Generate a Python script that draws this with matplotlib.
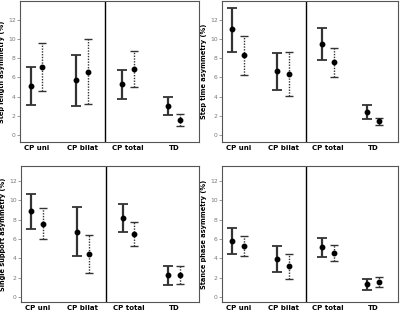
import numpy as np
import matplotlib
matplotlib.use("Agg")
import matplotlib.pyplot as plt

groups = ["CP uni", "CP bilat", "CP total", "TD"]

titles = ["Step length asymmetry (%)", "Step time asymmetry (%)",
          "Single support asymmetry (%)", "Stance phase asymmetry (%)"]

# mean, lower, upper for the solid and the dotted series in each panel
solid_mean = [[5.1, 5.7, 5.3, 3.0], [11.1, 6.7, 9.5, 2.4],
              [8.86, 6.76, 8.17, 2.24], [5.8, 3.9, 5.17, 1.31]]
solid_lo = [[3.14, 3.0, 3.8, 2.1], [8.7, 4.7, 7.8, 1.65],
            [7.07, 4.24, 6.7, 1.24], [4.41, 2.59, 4.14, 0.72]]
solid_hi = [[7.1, 8.4, 6.8, 4.0], [13.3, 8.6, 11.2, 3.1],
            [10.7, 9.34, 9.6, 3.2], [7.14, 5.24, 6.14, 1.83]]

dot_mean = [[7.07, 6.6, 6.9, 1.6], [8.3, 6.4, 7.6, 1.4],
            [7.6, 4.48, 6.48, 2.3], [5.28, 3.17, 4.55, 1.52]]
dot_lo = [[4.6, 3.2, 5.0, 0.93], [6.3, 4.1, 6.1, 1.0],
          [6.0, 2.45, 5.24, 1.34], [4.24, 1.86, 3.69, 1.03]]
dot_hi = [[9.6, 10.0, 8.8, 2.2], [10.3, 8.7, 9.1, 1.8],
          [9.2, 6.45, 7.8, 3.2], [6.3, 4.45, 5.38, 2.07]]

W, H = 400, 312
fig = plt.figure(figsize=(W / 100, H / 100), dpi=100)

# panel boxes in pixels: left, top, right, bottom
boxes = [(20, 1, 199, 142), (222, 1, 398, 142),
         (21, 166, 199, 302), (222, 166, 398, 302)]
ylims = [(-0.75, 14.0), (-0.75, 14.0), (-0.5, 13.55), (-0.5, 13.55)]

x = np.arange(len(groups))
off = 0.13

for i, (l, t, r, b) in enumerate(boxes):
    ax = fig.add_axes([l / W, 1 - b / H, (r - l) / W, (b - t) / H])
    sm, dm = np.array(solid_mean[i]), np.array(dot_mean[i])
    s_err = [sm - np.array(solid_lo[i]), np.array(solid_hi[i]) - sm]
    d_err = [dm - np.array(dot_lo[i]), np.array(dot_hi[i]) - dm]

    ax.errorbar(x - off, sm, yerr=s_err, fmt="o", color="black", ms=3.2,
                ecolor="#333333", elinewidth=1.6, capsize=3.5, capthick=1.3)
    eb2 = ax.errorbar(x + off, dm, yerr=d_err, fmt="o", color="black", ms=3.2,
                      ecolor="#333333", elinewidth=1.0, capsize=3.0, capthick=1.0)
    eb2[2][0].set_linestyle((0, (1, 1)))
    ax.axvline(1.5, color="black", lw=1.0)

    ax.set_xlim(-0.36, 3.55)
    ax.set_ylim(*ylims[i])
    ax.set_yticks(range(0, 13, 2))
    ax.set_xticks(x)
    ax.set_xticklabels(groups, fontsize=5, fontweight="bold")
    ax.tick_params(axis="x", length=0, pad=2)
    ax.tick_params(axis="y", length=2, width=0.5, labelsize=4.3,
                   colors="#777777", pad=1)
    ax.set_ylabel(titles[i], fontsize=4.8, fontweight="bold")
    ax.yaxis.set_label_coords(-15 / (r - l), 0.5)
    for sp in ax.spines.values():
        sp.set_color("#555555")
        sp.set_linewidth(0.8)

fig.savefig("out.png", dpi=100)
